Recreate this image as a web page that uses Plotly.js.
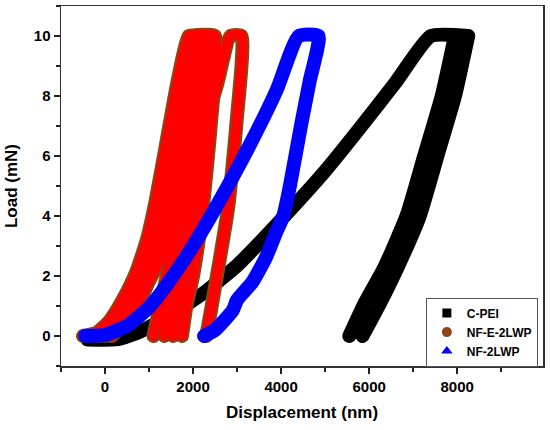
<!DOCTYPE html>
<html>
<head>
<meta charset="utf-8">
<script src="https://cdn.plot.ly/plotly-3.0.1.min.js"></script>
<style>
  body { margin: 0; background: #fff; }
  #graph { width: 550px; height: 430px; }
  #graph path.js-line { stroke-linejoin: round !important; stroke-linecap: round !important; }
</style>
</head>
<body>
<div id="graph"></div>
<script>
// C-PEI: one loading curve, hold, two unloading curves
let cpeiLoadX = [-400, 300, 800, 1500, 2300, 3000, 3600, 4300, 5000, 5800, 6600, 7400, 8250];
let cpeiLoadY = [-0.12, -0.1, 0.15, 0.7, 1.5, 2.35, 3.25, 4.35, 5.5, 6.95, 8.45, 10, 10];
let cpeiUnloadAX = [8250, 7950, 7550, 7150, 6650, 6250, 5850];
let cpeiUnloadAY = [10, 8, 6, 4, 2.3, 1.1, 0];
let cpeiUnloadBX = [7950, 7650, 7250, 6850, 6350, 5900, 5550];
let cpeiUnloadBY = [10, 8, 6, 4, 2.3, 1.1, 0];

// NF-E-2LWP: five tests
let e1X = [-500, -200, 100, 400, 700, 950, 1150, 1400, 1650, 1900, 2050, 1880, 1620, 1400, 1250, 1100];
let e1Y = [0, 0.1, 0.5, 1.2, 2.1, 3.2, 4.5, 6.5, 8.5, 10, 10, 7, 4, 2, 1, 0];
let e2X = [-250, 100, 450, 800, 1100, 1350, 1600, 1800, 2000, 2200, 2050, 1800, 1600, 1450, 1350];
let e2Y = [0, 0.3, 1.0, 2.0, 3.3, 4.9, 6.6, 8.4, 10, 10, 7, 4, 2, 1, 0];
let e3X = [-100, 300, 700, 1050, 1350, 1600, 1800, 2050, 2350, 2200, 2000, 1800, 1650, 1550];
let e3Y = [0, 0.4, 1.2, 2.5, 4, 5.8, 7.8, 10, 10, 7, 4, 2, 1, 0];
let e4X = [150, 500, 900, 1250, 1550, 1800, 2000, 2150, 2500, 2400, 2200, 2000, 1850, 1750];
let e4Y = [0, 0.5, 1.5, 2.9, 4.5, 6.3, 8.2, 10, 10, 7, 4, 2, 1, 0];
let e5X = [0, 400, 800, 1200, 1600, 1950, 2250, 2550, 2850, 3100, 2980, 2800, 2600, 2400, 2300];
let e5Y = [0, 0.5, 1.3, 2.4, 3.8, 5.3, 6.9, 8.4, 10, 10, 7, 4.3, 2.5, 0.8, 0];

// NF-2LWP
let nfX = [-450, 0, 500, 1000, 1500, 2000, 2600, 3300, 3900, 4400, 4850, 4650, 4450, 4200, 4050, 3900, 3650, 3350, 3000, 2900, 2500, 2250];
let nfY = [0, 0.03, 0.33, 0.95, 1.9, 3.0, 4.5, 6.4, 8.2, 10, 10, 8.5, 7, 5, 4, 3.5, 2.6, 1.8, 1.2, 0.85, 0.2, 0];

function joinCurves(list) {
    let out = [];
    list.forEach(function(c, i) {
        if (i > 0) out.push(null);
        out = out.concat(c);
    });
    return out;
}

let cpeiX = joinCurves([cpeiLoadX, cpeiUnloadAX, cpeiUnloadBX]);
let cpeiY = joinCurves([cpeiLoadY, cpeiUnloadAY, cpeiUnloadBY]);
let eX = joinCurves([e1X, e2X, e3X, e4X, e5X]);
let eY = joinCurves([e1Y, e2Y, e3Y, e4Y, e5Y]);

let black = "rgb(0,0,0)";
let brown = "rgb(140,70,20)";
let red = "rgb(255,0,0)";
let blue = "rgb(0,0,255)";

let traces = [
    {x: cpeiX, y: cpeiY, mode: 'lines', line: {color: black, width: 14, shape: 'spline', smoothing: 0.5}, showlegend: false, hoverinfo: 'skip'},
    {x: eX, y: eY, mode: 'lines', line: {color: brown, width: 14, shape: 'spline', smoothing: 0.5}, showlegend: false, hoverinfo: 'skip'},
    {x: eX, y: eY, mode: 'lines', line: {color: red, width: 10, shape: 'spline', smoothing: 0.5}, showlegend: false, hoverinfo: 'skip'},
    {x: nfX, y: nfY, mode: 'lines', line: {color: blue, width: 14, shape: 'spline', smoothing: 0.5}, showlegend: false, hoverinfo: 'skip'},
    // legend entries
    {x: [null], y: [null], mode: 'markers', name: 'C-PEI', marker: {symbol: 'square', size: 9, color: black}},
    {x: [null], y: [null], mode: 'markers', name: 'NF-E-2LWP', marker: {symbol: 'circle', size: 10, color: brown}},
    {x: [null], y: [null], mode: 'markers', name: 'NF-2LWP', marker: {symbol: 'triangle-up', size: 10, color: blue}}
];

let fontFamily = 'Arial, Liberation Sans, sans-serif';

let layout = {
    width: 550,
    height: 430,
    margin: {l: 61, r: 7, t: 6, b: 64},
    paper_bgcolor: '#fff',
    plot_bgcolor: '#fff',
    font: {family: fontFamily, color: '#000'},
    xaxis: {
        range: [-1000, 9950],
        dtick: 2000,
        tick0: 0,
        tickformat: 'd',
        ticks: 'outside',
        ticklen: 6,
        tickwidth: 1.5,
        tickcolor: '#222',
        minor: {dtick: 1000, ticks: 'outside', ticklen: 4, tickwidth: 1.5, tickcolor: '#222'},
        showgrid: false,
        zeroline: false,
        showline: true,
        linecolor: '#333',
        linewidth: 1.5,
        mirror: true,
        tickfont: {family: fontFamily, size: 15, color: '#000', weight: 'bold'},
        title: {text: '<b>Displacement (nm)</b>', font: {family: fontFamily, size: 17, color: '#000'}, standoff: 12}
    },
    yaxis: {
        range: [-1, 11],
        dtick: 2,
        tick0: 0,
        ticks: 'outside',
        ticklen: 6,
        tickwidth: 1.5,
        tickcolor: '#222',
        minor: {dtick: 1, ticks: 'outside', ticklen: 4, tickwidth: 1.5, tickcolor: '#222'},
        showgrid: false,
        zeroline: false,
        showline: true,
        linecolor: '#333',
        linewidth: 1.5,
        mirror: true,
        tickfont: {family: fontFamily, size: 15, color: '#000', weight: 'bold'},
        title: {text: '<b>Load (mN)</b>', font: {family: fontFamily, size: 17, color: '#000'}, standoff: 12}
    },
    legend: {
        x: 0.757,
        y: 0.19,
        xanchor: 'left',
        yanchor: 'top',
        bgcolor: '#fff',
        bordercolor: '#555',
        borderwidth: 1,
        font: {family: fontFamily, size: 12, color: '#000', weight: 'bold'},
        tracegroupgap: 0,
        itemwidth: 30
    }
};

Plotly.newPlot('graph', traces, layout, {staticPlot: true});
</script>
</body>
</html>
